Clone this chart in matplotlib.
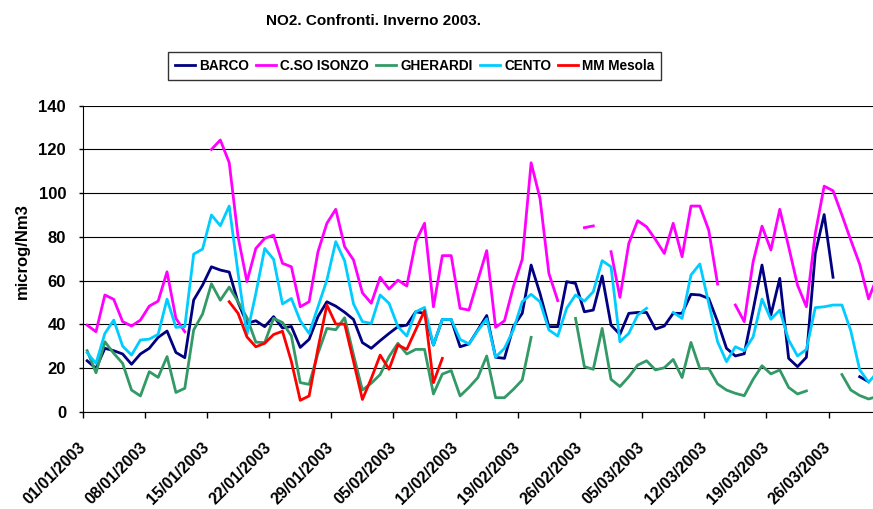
import numpy as np
import matplotlib.pyplot as plt

nan = np.nan

# daily NO2 values, 01/01/2003 -> 31/03/2003 (gaps = nan)
barco = [23.3, 19.8, 29, 27.9, 26.4, 21.7, 26.4, 29, 34, 36.9,
         27.1, 24.7, 51.1, 57.9, 66.3, 64.8, 63.9, 50, 40.4, 41.6,
         38.9, 43.5, 38.3, 39, 29.4, 33.1, 43.5, 50.3, 48.3, 45.5,
         42.2, 31.6, 29, 32.5, 35.8, 38.9, 39.6, 45.7, 45, 30.5,
         42.2, 42.2, 29.7, 31, 37.4, 44, 24.9, 24.4, 38.9, 45,
         67.1, 54.1, 38.9, 38.9, 59.5, 58.7, 45.7, 46.5, 62.1, 39.6,
         35.4, 45, 45.4, 45.4, 37.8, 39.2, 45, 45, 53.7, 53.4,
         51.8, 41.2, 29, 25.5, 26.5, 46.5, 67.1, 44.2, 61, 24.4,
         20.6, 24.9, 72.4, 90.2, 61.5, nan, nan, 16, 13.7, nan]

isonzo = [39.6, 36.6, 53.4, 51.4, 41.2, 39.2, 41.9, 48.3, 50.6, 64,
          42.7, 36.6, nan, nan, 120, 124.3, 114, 80, 59.5, 74.7,
          79.3, 80.8, 67.9, 66.3, 48, 50.3, 73.2, 86.2, 92.6, 75.5,
          69.4, 54.4, 49.6, 61.5, 56.1, 60.2, 57.5, 77.8, 86.2, 48,
          71.4, 71.4, 47.3, 46.5, 60.2, 73.7, 38.6, 41.6, 57.2, 69.7,
          113.9, 97.6, 63.3, 50.8, nan, nan, 84.2, 85, nan, 73.2,
          52.3, 77, 87.4, 84.6, 78.8, 72.4, 86.2, 70.9, 94.1, 94.1,
          83.1, 58.4, nan, 48.8, 41.2, 68.6, 84.9, 74, 92.6, 75.5,
          57.9, 48, 81.6, 103.2, 101.1, 90, 78.5, 67.5, 51.6, 62]

gherardi = [27.9, 17.8, 32, 26.7, 22.1, 9.9, 7.2, 18.3, 15.7, 25.2,
            8.8, 10.7, 37.4, 44.7, 58.5, 51, 57, 50.3, 43, 31.8,
            31.6, 42.7, 40.8, 34.7, 13.3, 12.5, 26.7, 38.1, 37.5, 43,
            26, 9.9, 13, 17, 25.2, 31.3, 26.4, 28.5, 28.5, 8.1,
            17.2, 18.8, 7.2, 11.1, 15.6, 25.5, 6.4, 6.4, 10.2, 14.5,
            34, nan, nan, nan, nan, 42.7, 20.6, 19.4, 38.1, 14.8,
            11.5, 16, 21.3, 23.3, 19.1, 20.1, 23.9, 15.6, 31.7, 19.7,
            19.8, 12.7, 9.9, 8.4, 7.3, 14.8, 21, 17.3, 19.1, 11.1,
            8.1, 9.5, nan, nan, nan, 17, 9.9, 7.4, 5.8, 7]

cento = [27, 22.1, 35.8, 41.9, 30, 25.9, 32.8, 33.2, 35.4, 51.5,
         38.6, 38.9, 72.1, 74.4, 90, 85.1, 94.1, 63.3, 35.3, 54.1,
         74.7, 69.7, 49.3, 51.8, 41.6, 35.8, 48, 60.2, 77.8, 69,
         49.3, 41.2, 40.4, 53.4, 49.6, 38.9, 34.6, 45.7, 47.7, 30.5,
         42.2, 42.2, 33.1, 31, 37.1, 42.5, 24.9, 29, 37.4, 50.3,
         53.7, 50.3, 37.4, 34.6, 47.3, 53.4, 50.6, 54.9, 69.1, 66.3,
         32, 35.8, 44.2, 47.3, nan, nan, 45.4, 42.7, 62.5, 67.6,
         49.6, 32, 22.9, 29.7, 27.9, 34.2, 51.5, 42.3, 46.5, 32.8,
         25.5, 28.5, 47.6, 48, 48.8, 48.8, 37, 19.2, 13.5, 18]

mesola = [nan] * 16 + [50.3, 45, 34.2, 29.7, 31.3, 35.3, 36.8, 23, 5.2, 7.2,
                       29, 48.8, 40.1, 40.1, 23, 5.6, 15.2, 25.9, 19.4, 30.5,
                       28.5, 37.4, 46.2, 13.3, 24.4] + [nan] * 49

tick_labels = ['01/01/2003', '08/01/2003', '15/01/2003', '22/01/2003',
               '29/01/2003', '05/02/2003', '12/02/2003', '19/02/2003',
               '26/02/2003', '05/03/2003', '12/03/2003', '19/03/2003',
               '26/03/2003']

series = [('BARCO', barco, '#000080'),
          ('C.SO ISONZO', isonzo, '#FF00FF'),
          ('GHERARDI', gherardi, '#339966'),
          ('CENTO', cento, '#00CCFF'),
          ('MM Mesola', mesola, '#FF0000')]

plt.rcParams['font.family'] = ['Liberation Sans', 'DejaVu Sans']
plt.rcParams['font.weight'] = 'bold'

fig = plt.figure(figsize=(8.73, 5.09), dpi=100)
ax = fig.add_axes([0.0947, 0.1912, 0.9053, 0.6011])

x = np.arange(len(barco)) + 0.5  # points sit in the middle of each day
for name, vals, col in series:
    ax.plot(x, vals, color=col, lw=2.0, label=name)

ax.set_xlim(0, 89)
ax.set_ylim(0, 140)
ax.set_yticks(range(0, 141, 20))
ax.set_xticks(range(0, 7 * len(tick_labels), 7))
ax.set_xticklabels(tick_labels, rotation=45, ha='right', va='center',
                   rotation_mode='anchor', fontsize=11.5, fontweight='bold')
ax.tick_params(axis='x', length=4, width=1, pad=20)
ax.tick_params(axis='y', length=3, width=1, pad=9, labelsize=12)
for t in ax.get_yticklabels():
    t.set_fontweight('bold')

ax.grid(axis='y', color='black', lw=0.8)
ax.set_axisbelow(True)
ax.spines['right'].set_visible(False)
ax.spines['top'].set_visible(False)

fig.text(0.026, 0.507, 'microg/Nm3', rotation=90, ha='center', va='center',
         fontsize=12, fontweight='bold')
fig.text(0.428, 0.958, 'NO2. Confronti. Inverno 2003.', ha='center',
         va='center', fontsize=11, fontweight='bold')

leg = fig.legend(loc='center', bbox_to_anchor=(0.475, 0.87), ncol=5,
                 frameon=True, fancybox=False, edgecolor='black',
                 fontsize=9.8, handlelength=1.5, handletextpad=0.3,
                 columnspacing=0.5, borderpad=0.5)
leg.get_frame().set_linewidth(1.0)

fig.savefig('out.png', dpi=100)
